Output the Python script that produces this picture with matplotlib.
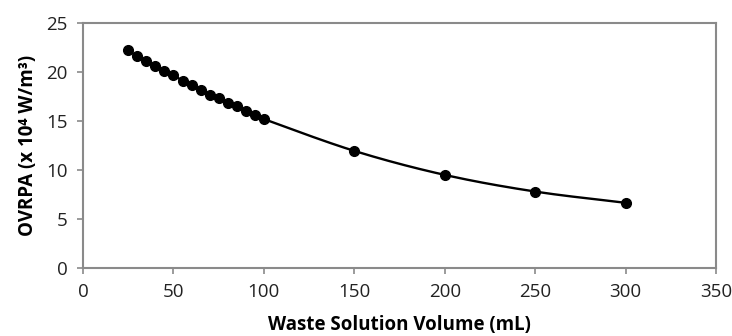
import numpy as np
import matplotlib
matplotlib.use("Agg")
import matplotlib.pyplot as plt

plt.rcParams['font.family'] = ['Open Sans', 'DejaVu Sans']

# waste solution volume (mL) and OVRPA (x 10^4 W/m^3)
volume = [25, 30, 35, 40, 45, 50, 55, 60, 65, 70, 75, 80, 85, 90, 95, 100,
          150, 200, 250, 300]
ovrpa = [22.2, 21.6, 21.1, 20.6, 20.1, 19.7, 19.1, 18.7, 18.2, 17.7, 17.3,
         16.8, 16.5, 16.0, 15.6, 15.2, 11.95, 9.5, 7.8, 6.65]


def smooth_line(x, y, n=30):
    # Catmull-Rom curve through the points (like Excel's smoothed line)
    x = np.asarray(x, float)
    y = np.asarray(y, float)
    px = np.concatenate([[2 * x[0] - x[1]], x, [2 * x[-1] - x[-2]]])
    py = np.concatenate([[2 * y[0] - y[1]], y, [2 * y[-1] - y[-2]]])
    xs, ys = [], []
    t = np.linspace(0, 1, n)
    for i in range(1, len(px) - 2):
        for p, out in ((px, xs), (py, ys)):
            p0, p1, p2, p3 = p[i - 1], p[i], p[i + 1], p[i + 2]
            out.extend(0.5 * (2 * p1 + (-p0 + p2) * t
                              + (2 * p0 - 5 * p1 + 4 * p2 - p3) * t ** 2
                              + (-p0 + 3 * p1 - 3 * p2 + p3) * t ** 3))
    return xs, ys


fig = plt.figure(figsize=(7.32, 3.36), dpi=100)
ax = fig.add_axes([0.1134, 0.2024, 0.865, 0.729])

sx, sy = smooth_line(volume, ovrpa)
ax.plot(sx, sy, color='black', lw=1.7)
ax.plot(volume, ovrpa, 'o', color='black', ms=7)

ax.set_xlim(0, 350)
ax.set_ylim(0, 25)
ax.set_xticks(range(0, 351, 50))
ax.set_yticks(range(0, 26, 5))

for s in ax.spines.values():
    s.set_color('#8a8a8a')
    s.set_linewidth(1.5)
ax.tick_params(direction='out', length=4, width=1.2, color='#8a8a8a',
               labelsize=13.5, labelcolor='#222222', pad=7)

ax.set_xlabel('Waste Solution Volume (mL)', fontsize=13.5, fontweight='bold',
              labelpad=10)
ax.set_ylabel('OVRPA (x 10\u2074 W/m\u00b3)', fontsize=13.5, fontweight='bold',
              labelpad=6)

fig.savefig('out.png', dpi=100)
